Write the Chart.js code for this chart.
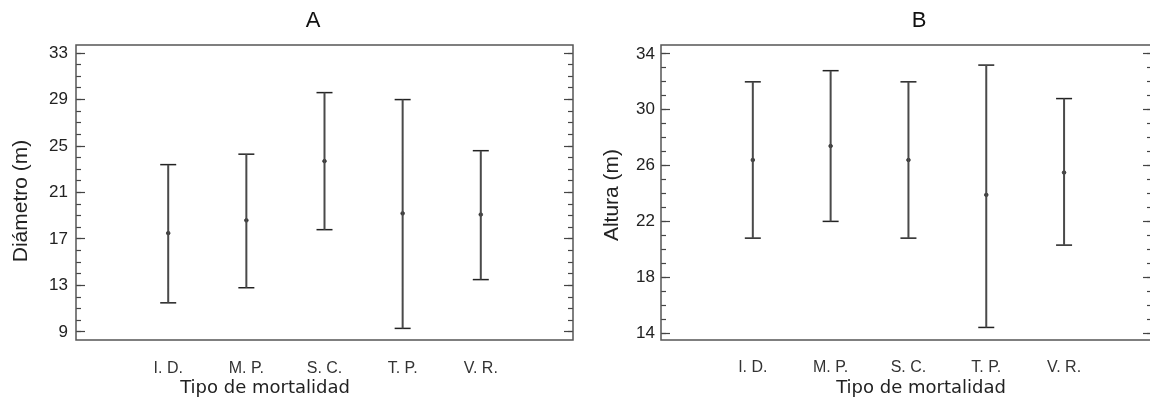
<!DOCTYPE html>
<html>
<head>
<meta charset="utf-8">
<script src="https://cdn.jsdelivr.net/npm/chart.js@4.4.1/dist/chart.umd.min.js"></script>
<style>
  html, body { margin: 0; padding: 0; background: #fff; overflow: hidden; width: 1150px; height: 404px; }
  #wrapA { position: absolute; left: 0; top: 0; width: 580px; height: 404px; }
  #wrapB { position: absolute; left: 580px; top: 0; width: 572px; height: 404px; }
</style>
</head>
<body>
<div id="wrapA"><canvas id="chartA"></canvas></div>
<div id="wrapB"><canvas id="chartB"></canvas></div>
<script>
/* Tipo de mortalidad */
const categorias = ['I. D.', 'M. P.', 'S. C.', 'T. P.', 'V. R.'];

/* A: Diámetro (m) */
const diametroMedia = [17.5, 18.6, 23.7, 19.2, 19.1];
const diametroSup = [23.4, 24.3, 29.6, 29.0, 24.6];
const diametroInf = [11.5, 12.8, 17.8, 9.3, 13.5];
const diametroTicks = [9, 13, 17, 21, 25, 29, 33];

/* B: Altura (m) */
const alturaMedia = [26.4, 27.4, 26.4, 23.9, 25.5];
const alturaSup = [32.0, 32.8, 32.0, 33.2, 30.8];
const alturaInf = [20.8, 22.0, 20.8, 14.4, 20.3];
const alturaTicks = [14, 18, 22, 26, 30, 34];

const textos = {
  id: 'textos',
  afterDraw(chart, args, o) {
    const ctx = chart.ctx;
    const a = chart.chartArea;
    ctx.save();
    ctx.strokeStyle = '#555';
    ctx.lineWidth = 1.5;
    ctx.strokeRect(a.left, a.top, a.right - a.left, a.bottom - a.top);

    ctx.fillStyle = '#111';
    ctx.textAlign = 'center';
    ctx.textBaseline = 'alphabetic';
    ctx.font = '22px "Liberation Sans", Arial, sans-serif';
    ctx.fillText(o.titulo, o.tituloX, 27);

    ctx.fillStyle = '#222';
    ctx.font = '18px "DejaVu Sans", Verdana, sans-serif';
    ctx.fillText('Tipo de mortalidad', o.xTituloX, 393);

    ctx.translate(o.yTituloX, o.yTituloY);
    ctx.rotate(-Math.PI / 2);
    ctx.textBaseline = 'middle';
    ctx.font = '21px "Liberation Sans", Arial, sans-serif';
    ctx.fillText(o.yTitulo, 0, 0);
    ctx.restore();
  }
};

function ejeY(pos, min, max, valores, largo, etiquetas, ancho, padding) {
  return {
    type: 'linear',
    position: pos,
    min: min,
    max: max,
    afterBuildTicks: (scale) => { scale.ticks = valores.map(v => ({ value: v })); },
    afterFit: (scale) => { scale.width = ancho; },
    border: { display: false },
    grid: { drawOnChartArea: false, drawTicks: true, tickLength: largo, tickColor: '#444', tickWidth: 1.2 },
    ticks: {
      display: etiquetas,
      padding: padding,
      color: '#222',
      font: { family: '"Liberation Sans", Arial, sans-serif', size: 17 }
    }
  };
}

function crearPanel(id, media, sup, inf, ticksY, yMin, yMax, xMax, cfg) {
  const barras = [];
  categorias.forEach((c, i) => {
    barras.push({ x: i + 1, y: inf[i] });
    barras.push({ x: i + 1, y: sup[i] });
    barras.push({ x: i + 1, y: null });
  });
  const topes = [];
  categorias.forEach((c, i) => {
    topes.push({ x: i + 1, y: sup[i] });
    topes.push({ x: i + 1, y: inf[i] });
  });
  const medias = categorias.map((c, i) => ({ x: i + 1, y: media[i] }));

  // minor ticks every unit between the limits
  const menores = [];
  for (let v = Math.ceil(yMin); v <= yMax; v++) menores.push(v);

  new Chart(document.getElementById(id), {
    data: {
      datasets: [
        {
          type: 'line',
          data: barras,
          yAxisID: 'y',
          borderColor: '#4a4a4a',
          borderWidth: 2,
          pointRadius: 0,
          spanGaps: false,
          fill: false
        },
        {
          type: 'scatter',
          data: topes,
          yAxisID: 'y',
          pointStyle: 'line',
          pointRadius: 8,
          borderColor: '#222',
          borderWidth: 1.5
        },
        {
          type: 'scatter',
          data: medias,
          yAxisID: 'y',
          pointStyle: 'circle',
          pointRadius: 1.8,
          backgroundColor: '#222',
          borderColor: '#444',
          borderWidth: 1
        }
      ]
    },
    options: {
      responsive: true,
      maintainAspectRatio: false,
      animation: false,
      events: [],
      layout: { autoPadding: false, padding: { top: 45, left: 0, right: 0, bottom: 0 } },
      scales: {
        x: {
          type: 'linear',
          position: 'bottom',
          min: -0.18,
          max: xMax,
          afterBuildTicks: (scale) => { scale.ticks = categorias.map((c, i) => ({ value: i + 1 })); },
          afterFit: (scale) => { scale.height = 404 - 340; },
          border: { display: false },
          grid: { display: false },
          ticks: {
            padding: cfg.xPadding,
            color: '#333',
            font: { family: '"Liberation Sans", Arial, sans-serif', size: 16 },
            callback: (v) => categorias[v - 1]
          }
        },
        y: ejeY('left', yMin, yMax, menores, -5, false, 0, 0),
        yMayor: ejeY('left', yMin, yMax, ticksY, -9, true, cfg.izq, cfg.yPadding),
        yDer: ejeY('right', yMin, yMax, menores, -5, false, 0, 0),
        yDerMayor: ejeY('right', yMin, yMax, ticksY, -9, false, cfg.der, 0)
      },
      plugins: {
        legend: { display: false },
        title: { display: false },
        tooltip: { enabled: false },
        textos: cfg.textos
      }
    },
    plugins: [textos]
  });
}

crearPanel('chartA', diametroMedia, diametroSup, diametroInf, diametroTicks, 8.3, 33.7, 6.18, {
  izq: 76, der: 7, xPadding: 11, yPadding: 17,
  textos: { titulo: 'A', tituloX: 313, xTituloX: 265, yTitulo: 'Diámetro (m)', yTituloX: 21, yTituloY: 201 }
});

crearPanel('chartB', alturaMedia, alturaSup, alturaInf, alturaTicks, 13.5, 34.64, 6.13, {
  izq: 81, der: 0, xPadding: 10, yPadding: 15,
  textos: { titulo: 'B', tituloX: 339, xTituloX: 341, yTitulo: 'Altura (m)', yTituloX: 32, yTituloY: 195 }
});
</script>
</body>
</html>
